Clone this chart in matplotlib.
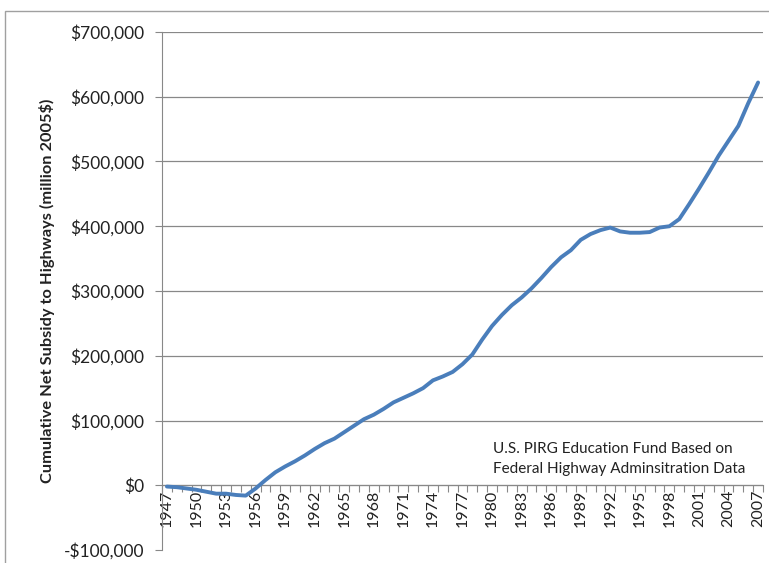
import matplotlib.pyplot as plt
import numpy as np
from matplotlib.patches import Rectangle

# datos (millones de dolares 2005)
years = list(range(1947, 2008))
subsidy = [-2000, -3000, -5000, -7000, -10000, -13000, -13000, -15000, -16000, -5000,
           8000, 20000, 29000, 37000, 46000, 56000, 65000, 72000, 82000, 92000,
           102000, 109000, 118000, 128000, 135000, 142000, 150000, 162000, 168000, 175000,
           187000, 202000, 225000, 246000, 263000, 278000, 290000, 304000, 320000, 337000,
           352000, 363000, 379000, 388000, 394000, 398000, 392000, 390000, 390000, 391000,
           398000, 400000, 411000, 434000, 458000, 483000, 509000, 532000, 555000, 590000,
           622000]
yticks = [-100000, 0, 100000, 200000, 300000, 400000, 500000, 600000, 700000]
ytick_labels = ['-$100,000', '$0', '$100,000', '$200,000', '$300,000', '$400,000',
                '$500,000', '$600,000', '$700,000']
label_years = years[::3]

plt.rcParams['font.family'] = ['Lato', 'DejaVu Sans']
gray = '#888888'

fig = plt.figure(figsize=(7.69, 5.63), dpi=100)
ax = fig.add_axes([162/769, 13/563, 601/769, 518/563])

# borde del area del grafico (el borde inferior y derecho quedan fuera de la imagen)
fig.patches.append(Rectangle((5/769, -0.2), 1.0, 0.2 + 552/563, transform=fig.transFigure,
                             fill=False, edgecolor='#a0a0a0', lw=1.0, clip_on=False))

x = np.arange(len(years))
ax.plot(x, subsidy, color='#4a7ebb', lw=2.8, solid_capstyle='round', zorder=3)

ax.set_xlim(-0.5, len(years) - 0.5)
ax.set_ylim(-100000, 700000)

for v in yticks[1:]:
    ax.axhline(v, color=gray, lw=0.9, zorder=1)

ax.set_yticks(yticks)
ax.set_yticklabels(ytick_labels, fontsize=12.5, color='#222222')
ax.tick_params(axis='y', direction='out', length=5, color=gray, pad=8)

# eje de categorias en y=0
ax.spines['bottom'].set_position(('data', 0))
ax.spines['bottom'].set_color(gray)
ax.spines['left'].set_color(gray)
ax.spines['top'].set_visible(False)
ax.spines['right'].set_visible(False)

ax.set_xticks(np.arange(len(years) + 1) - 0.5)
ax.set_xticklabels([])
ax.tick_params(axis='x', which='major', direction='out', length=5, color=gray)
ax.set_xticks([years.index(y) for y in label_years], minor=True)
ax.set_xticklabels([str(y) for y in label_years], minor=True, rotation=90,
                   fontsize=11.5, color='#222222')
ax.tick_params(axis='x', which='minor', length=0, pad=3)

ax.set_ylabel('Cumulative Net Subsidy to Highways (million 2005$)', fontsize=11.8,
              fontweight='bold', color='#222222', labelpad=6)

ax.text(0.551, 0.176, 'U.S. PIRG Education Fund Based on\nFederal Highway Adminsitration Data',
        transform=ax.transAxes, fontsize=11, color='#222222', ha='left', va='center',
        linespacing=1.5)

fig.savefig('out.png', dpi=100)
